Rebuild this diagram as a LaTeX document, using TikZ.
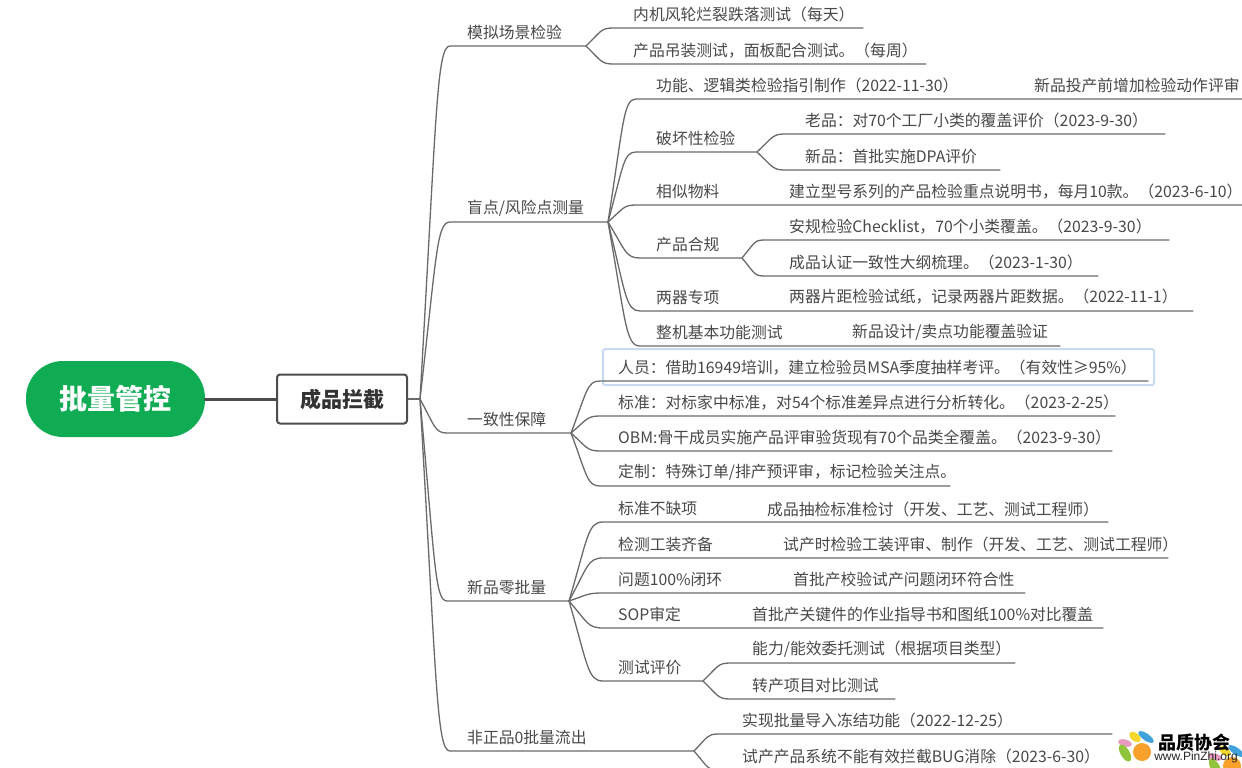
\documentclass[tikz,border=0pt]{standalone}
\usepackage{fontspec}
\setmainfont{Noto Sans CJK SC}
\newfontfamily\logolatin{Liberation Sans}
\usetikzlibrary{calc}
\definecolor{rootgreen}{HTML}{10AC54}
\definecolor{linegray}{HTML}{6A6A6A}
\definecolor{textgray}{HTML}{484848}
\definecolor{selblue}{HTML}{C9DAF0}
\definecolor{petalpink}{HTML}{E89AC0}
\definecolor{petalyellow}{HTML}{F6D82A}
\definecolor{petalblue}{HTML}{3FA2DC}
\definecolor{petalorange}{HTML}{F7A12B}
\definecolor{petalgreen}{HTML}{8FC43C}
\tikzset{
	branch/.style={draw=linegray, line width=1.3pt},
	topic/.style={anchor=west, inner sep=0pt, text=textgray, font=\fontsize{15.8}{18}\selectfont},
	rootnode/.style={fill=rootgreen, rounded corners=37pt, minimum width=179pt, minimum height=76pt, text=white, font=\fontsize{28}{32}\selectfont\bfseries},
	boxnode/.style={draw=black!70, line width=2pt, fill=white, rounded corners=3pt, minimum width=130pt, minimum height=49pt, text=black!80, font=\fontsize{21}{25}\selectfont\bfseries},
	selbox/.style={draw=selblue, line width=2pt, rounded corners=2pt, minimum width=551pt, minimum height=36pt}
}
\begin{document}
\begin{tikzpicture}[x=1pt,y=-1pt, line join=round, line cap=round]
	\useasboundingbox (0,0) rectangle (1242,768);
	\node[selbox] (sel) at (878.5,367) {};
	\node[rootnode] (root) at (115.5,399) {批量管控};
	\node[boxnode] (box) at (342,399) {成品拦截};
	\coordinate (hub) at (420,399);
	\draw[draw=black!70, line width=3pt] (root) -- (box);
	\draw[branch] (box) -- (hub);
	% hub / name / line start / line end / line height / text x / text
	\foreach \h/\n/\a/\b/\y/\x/\t in {
		hub/mn/450/586/46/467/{模拟场景检验},
		mn-b/mna/613/863/28/633/{内机风轮烂裂跌落测试（每天）},
		mn-b/mnb/613/926/64/633/{产品吊装测试，面板配合测试。（每周）},
		hub/md/450/608/222/467/{盲点/风险点测量},
		md-b/gn/636/1242/99/656/{功能、逻辑类检验指引制作（2022-11-30）},
		md-b/ph/636/757/152/656/{破坏性检验},
		ph-b/pha/785/1165/134/805/{老品：对70个工厂小类的覆盖评价（2023-9-30）},
		ph-b/phb/785/1000/170/805/{新品：首批实施DPA评价},
		md-b/xs/636/1242/205/656/{相似物料},
		md-b/hg/640/742/258/656/{产品合规},
		hg-b/hga/764/1169/240/789/{安规检验Checklist，70个小类覆盖。（2023-9-30）},
		hg-b/hgb/764/1098/276/789/{成品认证一致性大纲梳理。（2023-1-30）},
		md-b/lq/640/1193/311/656/{两器专项},
		md-b/zj/640/1060/346/656/{整机基本功能测试},
		hub/yz/447/571/433/467/{一致性保障},
		yz-b/ry/600/1148/381/618/{人员：借助16949培训，建立检验员MSA季度抽样考评。（有效性≥95\%）},
		yz-b/bz/600/1115/416/618/{标准：对标家中标准，对54个标准差异点进行分析转化。（2023-2-25）},
		yz-b/obm/600/1112/451/618/{OBM:骨干成员实施产品评审验货现有70个品类全覆盖。（2023-9-30）},
		yz-b/dz/600/950/486/618/{定制：特殊订单/排产预评审，标记检验关注点。},
		hub/xp/447/569/601/467/{新品零批量},
		xp-b/bq/603/1108/522/618/{标准不缺项},
		xp-b/jc/603/1168/558/618/{检测工装齐备},
		xp-b/wt/603/1025/593/618/{问题100\%闭环},
		xp-b/sop/603/1103/628/618/{SOP审定},
		xp-b/cs/603/703/681/618/{测试评价},
		cs-b/csa/730/1015/663/752/{能力/能效委托测试（根据项目类型）},
		cs-b/csb/730/895/699/752/{转产项目对比测试},
		hub/fz/450/694/751/467/{非正品0批量流出},
		fz-b/fza/718/1112/734/742/{实现批量导入冻结功能（2022-12-25）},
		fz-b/fzb/718/1112/770/742/{试产产品系统不能有效拦截BUG消除（2023-6-30）}%
	}{
		\path (\a,\y) coordinate(\n-a) -- (\b,\y) coordinate(\n-b);
		\coordinate (c) at ($(\h)!.55!(\h-|\n-a)$);
		\draw[branch] (\h) .. controls ($(c)!.8!(c|-\n-a)$) and (c|-\n-a) .. (\n-a) -- (\n-b);
		\node[topic] (\n) at (\x,\y-13.5) {\t};
	}
	\foreach \n/\x/\y/\t in {
		gn2/1034/85.5/{新品投产前增加检验动作评审},
		xs2/789/191.5/{建立型号系列的产品检验重点说明书，每月10款。（2023-6-10）},
		lq2/789/297/{两器片距检验试纸，记录两器片距数据。（2022-11-1）},
		zj2/852/332/{新品设计/卖点功能覆盖验证},
		bq2/767/509/{成品抽检标准检讨（开发、工艺、测试工程师）},
		jc2/783/544/{试产时检验工装评审、制作（开发、工艺、测试工程师）},
		wt2/793/579/{首批产校验试产问题闭环符合性},
		sop2/752/614.5/{首批产关键件的作业指导书和图纸100\%对比覆盖}%
	}{
		\node[topic] (\n) at (\x,\y) {\t};
	}
	% logo
	\foreach \dx/\dy in {0/0,90/14}{
		\fill[petalpink] (1125+\dx,743+\dy) ellipse[x radius=7, y radius=3.5, rotate=-15];
		\fill[petalyellow] (1135+\dx,737+\dy) ellipse[x radius=6.5, y radius=4, rotate=-40];
		\fill[petalblue] (1146+\dx,737+\dy) ellipse[x radius=9, y radius=3.5, rotate=-35];
		\fill[petalorange] (1142+\dx,752+\dy) circle (9);
		\fill[petalgreen] (1125+\dx,753+\dy) ellipse[x radius=9.5, y radius=4.5, rotate=-60];
	}
	\node[inner sep=0pt, text=black, font=\fontsize{18}{20}\selectfont\bfseries] (lgcn) at (1194,743) {品质协会};
	\node[inner sep=0pt, text=black!85, font=\logolatin\fontsize{12}{14}\selectfont] (lgen) at (1196,757) {www.PinZhi.org};
\end{tikzpicture}
\end{document}
